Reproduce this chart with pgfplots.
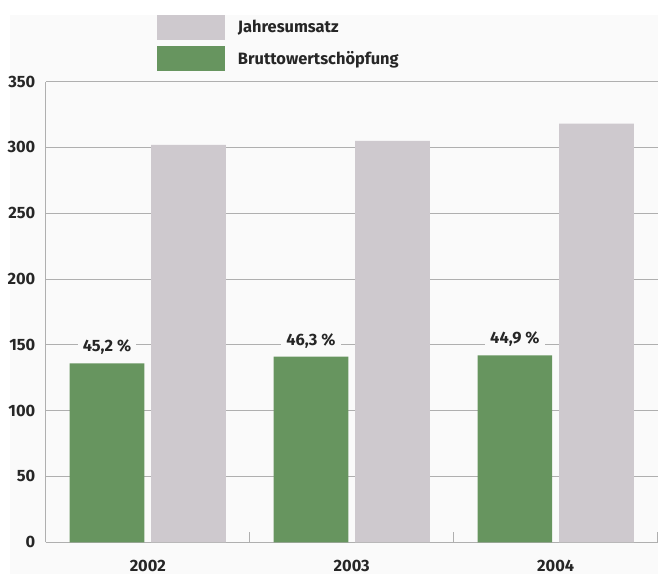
\documentclass[border=0pt]{standalone}
\usepackage{pgfplots}
\pgfplotsset{compat=1.18}
\usepackage{fontspec}
\setmainfont{Fira Sans}
\definecolor{bargreen}{RGB}{103,149,95}
\definecolor{bargray}{RGB}{206,201,206}
\definecolor{gridgray}{RGB}{175,175,175}
\definecolor{bgcol}{RGB}{250,250,250}
\newcommand{\lblfont}{\fontsize{16.5}{18}\selectfont\bfseries}
\begin{document}
\begin{tikzpicture}
\path (-46pt,-32pt) rectangle (615pt,545pt);
\fill[bgcol] (-36pt,-32pt) rectangle (615pt,530pt);
\begin{axis}[
  scale only axis,
  width=615pt, height=463pt,
  xmin=-0.5, xmax=2.5,
  ymin=0, ymax=350,
  axis x line*=bottom,
  axis y line*=left,
  axis line style={draw=gridgray, line width=1pt},
  ytick={0,50,...,350},
  ymajorgrids,
  grid style={draw=gridgray, line width=1pt},
  xtick={0,1,2},
  xticklabels={2002,2003,2004},
  xtick style={draw=none},
  ytick style={draw=none},
  extra x ticks={0.5,1.5,2.5},
  extra x tick labels={},
  extra x tick style={grid=none, tick align=inside, major tick length=10pt,
     xtick style={draw=gridgray, line width=1pt}},
  /pgf/number format/assume math mode=true,
  ticklabel style={font=\lblfont, text=black!85},
  yticklabel style={anchor=east, xshift=-7pt},
  xticklabel style={yshift=-10pt},
  ybar, bar shift=0pt, bar width=0.366,
  legend style={at={(axis description cs:0.182,1.145)}, anchor=north west,
     draw=none, fill=none, row sep=6pt, inner sep=0pt,
     font=\lblfont, text=black!85,
     nodes={inner xsep=13pt}},
  legend cell align=left,
  legend image code/.code={\fill[#1] (0pt,-12.5pt) rectangle (68pt,12.5pt);},
]
\addplot[fill=bargray, draw=none] coordinates {(0.2,302) (1.2,305) (2.2,318)};
\addlegendentry{Jahresumsatz}
\addplot[fill=bargreen, draw=none,
  point meta=explicit symbolic,
  nodes near coords,
  every node near coord/.append style={anchor=center, yshift=16pt, fill=bgcol,
     inner xsep=5pt, inner ysep=1pt, font=\lblfont, text=black!85}]
  coordinates {(-0.2,136) [45,2 \%] (0.8,141) [46,3 \%] (1.8,142) [44,9 \%]};
\addlegendentry{Bruttowertschöpfung}
\end{axis}
\end{tikzpicture}
\end{document}
